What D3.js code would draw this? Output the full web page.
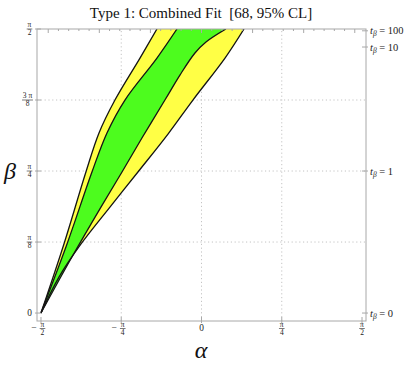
<!DOCTYPE html>
<html>
<head>
<meta charset="utf-8">
<script src="https://cdn.jsdelivr.net/npm/d3@7"></script>
<style>
  body { margin: 0; background: #fff; }
  svg { display: block; font-family: "Liberation Serif", "Times New Roman", serif; }
</style>
</head>
<body>
<div id="chart"></div>
<script>
// contour boundaries, [alpha, beta] in radians, tip -> top
const outer95Left = [[-1.571, 0], [-1.346, 0.382], [-1.131, 0.780], [-1.003, 0.996],
  [-0.847, 1.178], [-0.602, 1.410], [-0.436, 1.571]];
const inner68Left = [[-1.571, 0], [-1.316, 0.382], [-1.072, 0.780], [-0.925, 0.996],
  [-0.749, 1.178], [-0.436, 1.410], [-0.240, 1.571]];
const inner68Right = [[-1.571, 0], [-1.268, 0.310], [-0.984, 0.586], [-0.778, 0.780], [-0.583, 0.968],
  [-0.358, 1.178], [-0.211, 1.316], [-0.064, 1.438], [0.044, 1.499], [0.239, 1.571]];
const outer95Right = [[-1.571, 0], [-1.395, 0.199], [-1.179, 0.382], [-0.896, 0.586], [-0.622, 0.780],
  [-0.328, 0.990], [-0.084, 1.178], [0.230, 1.410], [0.416, 1.571]];

// ticks
const xTickFracs = [["-", "π", "2"], ["-", "π", "4"], ["", "0", ""], ["", "π", "4"], ["", "π", "2"]];
const xTickVals = [-Math.PI / 2, -Math.PI / 4, 0, Math.PI / 4, Math.PI / 2];
const yTickFracs = [["0", ""], ["π", "8"], ["π", "4"], ["3 π", "8"], ["π", "2"]];
const yTickVals = [0, Math.PI / 8, Math.PI / 4, 3 * Math.PI / 8, Math.PI / 2];
const tanBetaTicks = [0, 1, 10, 100];
const gridX = [-Math.PI / 4, 0, Math.PI / 4];
const gridY = [Math.PI / 8, Math.PI / 4, 3 * Math.PI / 8];

const W = 409, H = 366;
const svg = d3.select("#chart").append("svg").attr("width", W).attr("height", H);

const x = d3.scaleLinear().domain([-Math.PI / 2 - 0.039, Math.PI / 2 + 0.039]).range([37, 366]);
const y = d3.scaleLinear().domain([-0.044, Math.PI / 2]).range([321, 29]);
const [x0, x1] = x.range(), [y0, y1] = y.range();

svg.append("defs").append("clipPath").attr("id", "plotclip")
  .append("rect").attr("x", x0).attr("y", y1).attr("width", x1 - x0).attr("height", y0 - y1);

// grid
const grid = svg.append("g").attr("stroke", "#c4c4c4").attr("stroke-width", 1).attr("stroke-dasharray", "1.2,2.6");
grid.selectAll("line.gx").data(gridX).join("line").attr("class", "gx")
  .attr("x1", d => x(d)).attr("x2", d => x(d)).attr("y1", y0).attr("y2", y1);
grid.selectAll("line.gy").data(gridY).join("line").attr("class", "gy")
  .attr("y1", d => y(d)).attr("y2", d => y(d)).attr("x1", x0).attr("x2", x1);

// regions
const line = d3.line().x(d => x(d[0])).y(d => y(d[1])).curve(d3.curveCatmullRom.alpha(0.5));
const area = (left, right) => line(left) + "L" + line(right.slice().reverse()).slice(1) + "Z";
const plot = svg.append("g").attr("clip-path", "url(#plotclip)");
plot.append("path").attr("d", area(outer95Left, outer95Right)).attr("fill", "#ffff45");
plot.append("path").attr("d", area(inner68Left, inner68Right)).attr("fill", "#4dfc1e");
plot.selectAll("path.edge").data([outer95Left, inner68Left, inner68Right, outer95Right]).join("path")
  .attr("class", "edge").attr("d", line).attr("fill", "none")
  .attr("stroke", "#141414").attr("stroke-width", 1.3).attr("stroke-linejoin", "round");

// frame
const frame = svg.append("g").attr("stroke", "#a8a8a8").attr("stroke-width", 1).attr("fill", "none");
frame.append("rect").attr("x", x0).attr("y", y1).attr("width", x1 - x0).attr("height", y0 - y1);
// bottom & left major ticks
frame.selectAll("line.bt").data(xTickVals).join("line").attr("class", "bt")
  .attr("x1", d => x(d)).attr("x2", d => x(d)).attr("y1", y0 + 2).attr("y2", y0 - 4);
frame.selectAll("line.lt").data(yTickVals).join("line").attr("class", "lt")
  .attr("y1", d => y(d)).attr("y2", d => y(d)).attr("x1", x0 - 2).attr("x2", x0 + 4);
// top frame automatic ticks (0.1 rad)
const topTicks = d3.range(-15, 16).map(k => k / 10);
frame.selectAll("line.tt").data(topTicks).join("line").attr("class", "tt")
  .attr("x1", d => x(d)).attr("x2", d => x(d)).attr("y1", y1)
  .attr("y2", d => y1 + (Math.abs(d * 2 - Math.round(d * 2)) < 1e-6 ? 4 : 2));
// right frame tan(beta) ticks
frame.selectAll("line.rt").data(tanBetaTicks).join("line").attr("class", "rt")
  .attr("y1", d => y(Math.atan(d))).attr("y2", d => y(Math.atan(d))).attr("x1", x1 - 4).attr("x2", x1 + 2);

// fraction label helper
function fraction(g, cx, cy, num, den, fs) {
  const t = g.append("g").attr("fill", "#222").attr("font-size", fs).attr("text-anchor", "middle");
  if (!den) {
    t.append("text").attr("x", cx).attr("y", cy + fs * 0.35).attr("font-size", fs * 1.25).text(num);
    return;
  }
  const nm = t.append("text").attr("x", cx).attr("y", cy - 1.6).text(num);
  t.append("text").attr("x", cx).attr("y", cy + fs * 0.85).text(den);
  const w = Math.max(nm.node().getComputedTextLength(), fs * 0.55) + 1.5;
  t.append("line").attr("x1", cx - w / 2).attr("x2", cx + w / 2).attr("y1", cy).attr("y2", cy)
    .attr("stroke", "#222").attr("stroke-width", 0.6);
}

const labels = svg.append("g");
yTickVals.forEach((v, i) => {
  const [n, d] = yTickFracs[i];
  fraction(labels, n.length > 1 ? 27.5 : 29.5, y(v), n, d, 7.5);
});
xTickVals.forEach((v, i) => {
  const [s, n, d] = xTickFracs[i];
  const cx = x(v) + (s ? 1.5 : 0);
  fraction(labels, cx, 328.5, n, d, 7.5);
  if (s) labels.append("text").attr("x", cx - 6).attr("y", 331).attr("font-size", 9.5)
    .attr("text-anchor", "end").attr("fill", "#222").text("\u2212");
});

// right labels
tanBetaTicks.forEach(t => {
  const tx = labels.append("text").attr("x", x1 + 4).attr("y", y(Math.atan(t)) + 3.5)
    .attr("font-size", 10.5).attr("fill", "#222");
  tx.append("tspan").attr("font-style", "italic").text("t");
  tx.append("tspan").attr("font-style", "italic").attr("font-size", 7.5).attr("dy", 2).text("β");
  tx.append("tspan").attr("dy", -2).text(" = " + t);
});

// title and axis labels
svg.append("text").attr("x", 201).attr("y", 18).attr("text-anchor", "middle")
  .style("white-space", "pre")
  .attr("font-size", 15).attr("fill", "#111").text("Type 1: Combined Fit  [68, 95% CL]");
svg.append("text").attr("x", 10).attr("y", 179).attr("text-anchor", "middle")
  .attr("font-size", 24).attr("font-style", "italic").attr("fill", "#111").text("β");
svg.append("text").attr("x", 201).attr("y", 358).attr("text-anchor", "middle")
  .attr("font-size", 24).attr("font-style", "italic").attr("fill", "#111").text("α");
</script>
</body>
</html>
